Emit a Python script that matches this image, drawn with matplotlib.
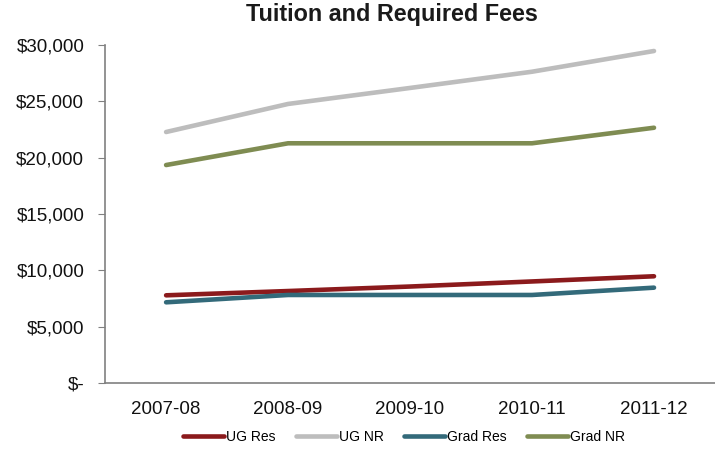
import matplotlib
matplotlib.use("Agg")
import matplotlib.pyplot as plt
from matplotlib.ticker import FuncFormatter, MultipleLocator

plt.rcParams['font.family'] = ['Liberation Sans', 'DejaVu Sans']

years = ["2007-08", "2008-09", "2009-10", "2010-11", "2011-12"]
ug_res = [7780, 8160, 8560, 9010, 9470]
ug_nr = [22270, 24760, 26180, 27620, 29460]
grad_res = [7160, 7810, 7810, 7810, 8460]
grad_nr = [19340, 21270, 21270, 21270, 22650]

series = [
    ("UG Res", ug_res, "#8B1A1C"),
    ("UG NR", ug_nr, "#BDBDBD"),
    ("Grad Res", grad_res, "#336A7A"),
    ("Grad NR", grad_nr, "#7F8C52"),
]

fig = plt.figure(figsize=(7.15, 4.49), dpi=100)
ax = fig.add_axes([0.147, 0.147, 0.853, 0.753])

x = list(range(len(years)))
for name, vals, col in series:
    ax.plot(x, vals, color=col, linewidth=3.3, solid_capstyle='round', label=name)

ax.set_xlim(-0.5, 4.5)
ax.set_ylim(0, 30000)
ax.yaxis.set_major_locator(MultipleLocator(5000))
ax.yaxis.set_major_formatter(FuncFormatter(lambda v, p: "$-" if v == 0 else "${:,.0f}".format(v)))
ax.set_xticks(x)
ax.set_xticklabels(years)

for s in ["top", "right"]:
    ax.spines[s].set_visible(False)
for s in ["left", "bottom"]:
    ax.spines[s].set_color("#808080")
    ax.spines[s].set_linewidth(1.2)
ax.tick_params(axis='y', direction='out', length=5, color="#808080", labelsize=13.5, pad=10, labelcolor="#111111")
ax.tick_params(axis='x', length=0, labelsize=13.5, pad=13, labelcolor="#111111")

fig.text(0.548, 0.967, "Tuition and Required Fees", ha='center', va='center',
         fontsize=16.8, fontweight='bold', color="#1a1a1a")

fig.legend(loc='center', bbox_to_anchor=(0.565, 0.027), ncol=4, frameon=False,
           fontsize=10, handlelength=2.95, handletextpad=0.15, columnspacing=1.45)

fig.savefig("out.png", dpi=100)
